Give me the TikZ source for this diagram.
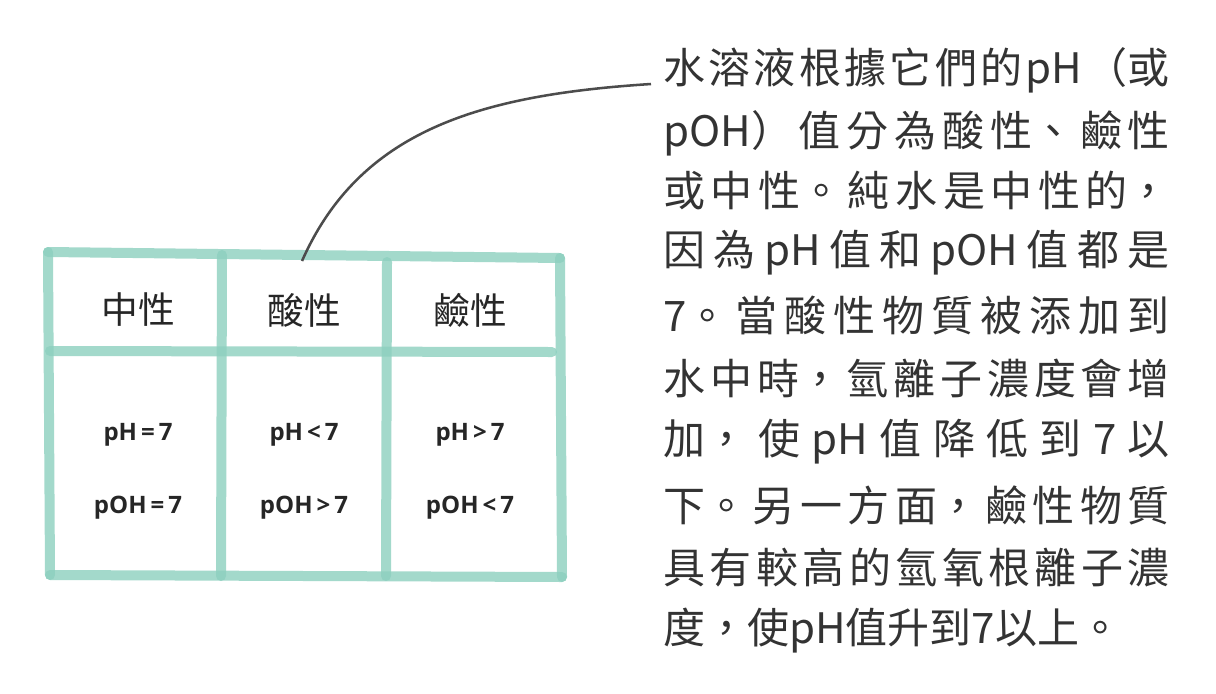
\documentclass[tikz,border=0pt]{standalone}
\usepackage{fontspec}
\setmainfont{Noto Sans CJK TC}
\newfontfamily\latinb{Open Sans}
\XeTeXlinebreaklocale "zh"
\XeTeXlinebreakskip=0pt plus 1fil
\definecolor{tl}{HTML}{8CCFBE}
\newcommand{\jl}[1]{\parbox{380pt}{\parfillskip=0pt\parindent=0pt #1}}
\begin{document}
\begin{tikzpicture}[x=0.75pt,y=-0.75pt,
  bar/.style={draw=tl,line width=7.5pt,opacity=0.8,line cap=round},
  hd/.style={font=\fontsize{27.5}{30}\selectfont,text=black!85},
  vl/.style={font=\latinb\bfseries\fontsize{18}{20}\selectfont,text=black!85},
  tx/.style={anchor=west,inner sep=0,font=\fontsize{31.5}{36}\selectfont,text=black!80}]
\useasboundingbox (0,0) rectangle (1216,693);
\draw[bar] (48,252) -- (560,258);
\draw[bar] (560,258) -- (562,577);
\draw[bar] (562,577) -- (50,575);
\draw[bar] (50,575) -- (48,252);
\draw[bar] (50,351) -- (552,352);
\draw[bar] (222,255) -- (221,576);
\draw[bar] (387,262) -- (386,576);
\node[hd] (h1) at (138,310) {中性};
\node[hd] (h2) at (304,310) {酸性};
\node[hd] (h3) at (470,310) {鹼性};
\node[vl] (v1) at (138,435) {pH\,=\,7};
\node[vl] (v2) at (304,435) {pH\,<\,7};
\node[vl] (v3) at (470,435) {pH\,>\,7};
\node[vl] (w1) at (138,508) {pOH\,=\,7};
\node[vl] (w2) at (304,508) {pOH\,>\,7};
\node[vl] (w3) at (470,508) {pOH\,<\,7};
\coordinate (p) at (302,261);
\coordinate (q) at (651,84);
\draw[black!70,line width=1.9pt] (p) .. controls (360,130) and (480,95) .. (q);
\node[tx] (t1) at (663,70) {\jl{水溶液根據它們的pH（或}};
\node[tx] (t2) at (663,133) {\jl{pOH）值分為酸性、鹼性}};
\node[tx] (t3) at (663,190) {\jl{或中性。純水是中性的，}};
\node[tx] (t4) at (663,253) {\jl{因為pH值和pOH值都是}};
\node[tx] (t5) at (663,316) {\jl{7。當酸性物質被添加到}};
\node[tx] (t6) at (663,379) {\jl{水中時，氫離子濃度會增}};
\node[tx] (t7) at (663,442) {\jl{加，使pH值降低到7以}};
\node[tx] (t8) at (663,505) {\jl{下。另一方面，鹼性物質}};
\node[tx] (t9) at (663,568) {\jl{具有較高的氫氧根離子濃}};
\node[tx] (t10) at (663,631) {度，使pH值升到7以上。};
\end{tikzpicture}
\end{document}
